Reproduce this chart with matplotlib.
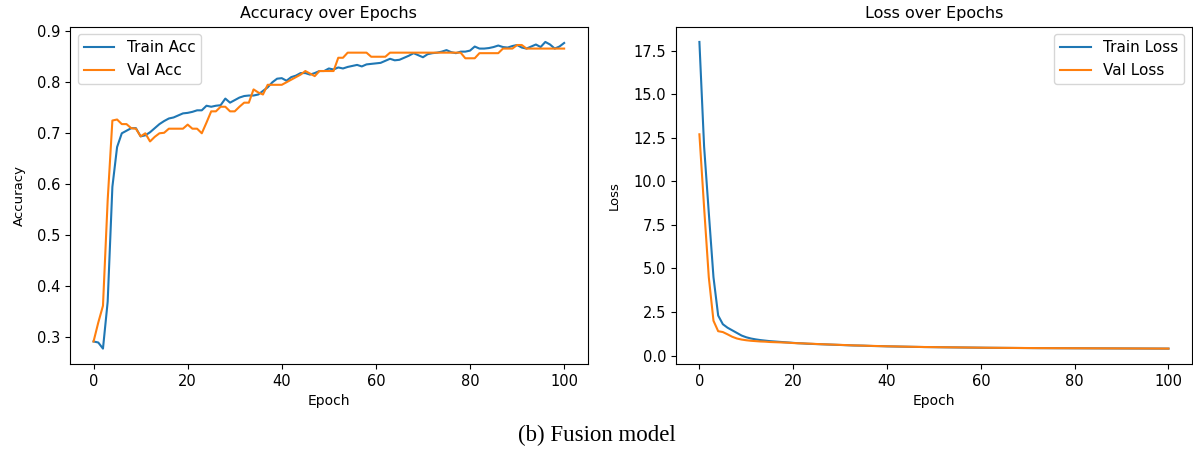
import matplotlib
matplotlib.use("Agg")
import matplotlib.pyplot as plt

# accuracy per epoch (0..100)
train_acc = [0.292, 0.290, 0.278, 0.370, 0.595, 0.673, 0.700, 0.705, 0.710, 0.710,
             0.694, 0.696, 0.702, 0.710, 0.718, 0.724, 0.729, 0.731, 0.735, 0.739,
             0.740, 0.742, 0.745, 0.745, 0.754, 0.752, 0.754, 0.755, 0.768, 0.760,
             0.765, 0.770, 0.773, 0.774, 0.774, 0.776, 0.783, 0.790, 0.800, 0.807,
             0.808, 0.803, 0.810, 0.813, 0.818, 0.818, 0.815, 0.818, 0.822, 0.822,
             0.827, 0.825, 0.829, 0.827, 0.830, 0.832, 0.834, 0.831, 0.835, 0.836,
             0.837, 0.838, 0.842, 0.846, 0.843, 0.844, 0.848, 0.852, 0.857, 0.853,
             0.849, 0.855, 0.857, 0.858, 0.860, 0.863, 0.859, 0.857, 0.860, 0.860,
             0.862, 0.870, 0.866, 0.866, 0.867, 0.869, 0.872, 0.869, 0.868, 0.871,
             0.873, 0.868, 0.866, 0.870, 0.874, 0.869, 0.879, 0.874, 0.866, 0.870,
             0.877]
val_acc = [0.292, 0.329, 0.362, 0.569, 0.725, 0.727, 0.718, 0.718, 0.710, 0.709,
           0.694, 0.700, 0.684, 0.693, 0.700, 0.701, 0.709, 0.709, 0.709, 0.709,
           0.717, 0.709, 0.709, 0.700, 0.721, 0.743, 0.743, 0.752, 0.752, 0.743,
           0.743, 0.752, 0.760, 0.760, 0.786, 0.780, 0.776, 0.795, 0.795, 0.795,
           0.795, 0.800, 0.805, 0.810, 0.815, 0.822, 0.817, 0.812, 0.822, 0.822,
           0.822, 0.822, 0.848, 0.848, 0.858, 0.858, 0.858, 0.858, 0.858, 0.850,
           0.850, 0.850, 0.850, 0.858, 0.858, 0.858, 0.858, 0.858, 0.858, 0.858,
           0.858, 0.858, 0.858, 0.858, 0.858, 0.858, 0.858, 0.858, 0.858, 0.847,
           0.847, 0.847, 0.857, 0.857, 0.857, 0.857, 0.857, 0.866, 0.866, 0.866,
           0.873, 0.873, 0.866, 0.866, 0.866, 0.866, 0.866, 0.866, 0.866, 0.866,
           0.866]

# loss per epoch
train_loss = [18.0, 12.0, 8.2, 4.5, 2.3, 1.8, 1.6, 1.45, 1.3, 1.15,
              1.05, 0.98, 0.93, 0.89, 0.86, 0.83, 0.81, 0.79, 0.77, 0.75,
              0.73, 0.71, 0.70, 0.68, 0.67, 0.66, 0.65, 0.64, 0.63, 0.62,
              0.61, 0.60, 0.59, 0.58, 0.575, 0.57, 0.56, 0.55, 0.545, 0.54,
              0.53, 0.525, 0.52, 0.515, 0.51, 0.505, 0.50, 0.495, 0.49, 0.487,
              0.484, 0.48, 0.477, 0.474, 0.471, 0.468, 0.465, 0.462, 0.459, 0.456,
              0.453, 0.45, 0.448, 0.446, 0.444, 0.442, 0.44, 0.438, 0.436, 0.434,
              0.432, 0.43, 0.428, 0.427, 0.426, 0.425, 0.424, 0.423, 0.422, 0.421,
              0.42, 0.419, 0.418, 0.417, 0.416, 0.415, 0.414, 0.413, 0.412, 0.411,
              0.41, 0.409, 0.408, 0.407, 0.406, 0.405, 0.404, 0.403, 0.402, 0.401,
              0.40]
val_loss = [12.7, 8.5, 4.5, 2.0, 1.4, 1.35, 1.22, 1.08, 0.98, 0.92,
            0.88, 0.85, 0.83, 0.81, 0.80, 0.78, 0.77, 0.76, 0.75, 0.74,
            0.72, 0.71, 0.70, 0.69, 0.68, 0.665, 0.655, 0.645, 0.635, 0.625,
            0.615, 0.605, 0.595, 0.585, 0.578, 0.57, 0.562, 0.555, 0.548, 0.54,
            0.535, 0.53, 0.524, 0.518, 0.512, 0.507, 0.502, 0.497, 0.492, 0.489,
            0.486, 0.482, 0.479, 0.476, 0.473, 0.47, 0.467, 0.464, 0.461, 0.458,
            0.455, 0.452, 0.45, 0.448, 0.446, 0.444, 0.442, 0.44, 0.438, 0.436,
            0.434, 0.432, 0.43, 0.429, 0.428, 0.427, 0.426, 0.425, 0.424, 0.423,
            0.422, 0.421, 0.42, 0.419, 0.418, 0.417, 0.416, 0.415, 0.414, 0.413,
            0.412, 0.411, 0.41, 0.409, 0.408, 0.407, 0.406, 0.405, 0.404, 0.403,
            0.402]
epochs = list(range(len(train_acc)))

fig = plt.figure(figsize=(11.93, 4.51), dpi=100)
ax1 = fig.add_axes([0.0587, 0.193, 0.4339, 0.748])
ax2 = fig.add_axes([0.5666, 0.193, 0.4325, 0.748])

# accuracy
ax1.plot(epochs, train_acc, color="tab:blue", label="Train Acc")
ax1.plot(epochs, val_acc, color="tab:orange", label="Val Acc")
ax1.set_title("Accuracy over Epochs", fontsize=11.5)
ax1.set_xlabel("Epoch", fontsize=10)
ax1.set_ylabel("Accuracy", fontsize=9.5, labelpad=8)
ax1.legend(loc="upper left", fontsize=11)

# loss
ax2.plot(epochs, train_loss, color="tab:blue", label="Train Loss")
ax2.plot(epochs, val_loss, color="tab:orange", label="Val Loss")
ax2.set_title("Loss over Epochs", fontsize=11.5)
ax2.set_xlabel("Epoch", fontsize=10)
ax2.set_ylabel("Loss", fontsize=9.5, labelpad=9)
ax2.legend(loc="upper right", fontsize=11)

for ax in (ax1, ax2):
    ax.tick_params(labelsize=10.5)

fig.text(0.5, 0.035, "(b) Fusion model", ha="center", va="center",
         fontsize=16.5, family="Liberation Serif")

plt.savefig("out.png", dpi=100)
